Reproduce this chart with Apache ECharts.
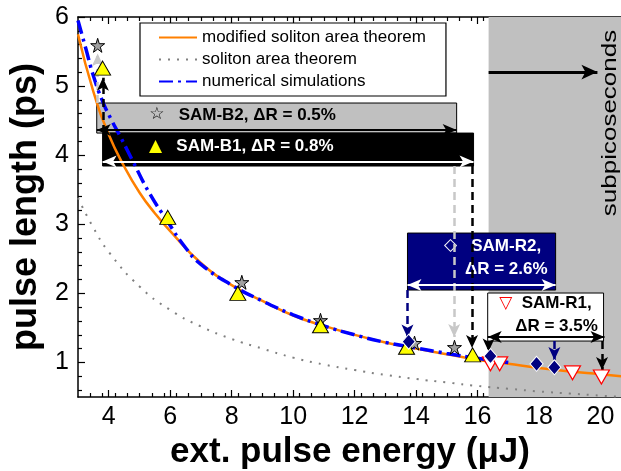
<!DOCTYPE html>
<html>
<head>
<meta charset="utf-8">
<script src="https://cdn.jsdelivr.net/npm/echarts@6/dist/echarts.min.js"></script>
<style>
  html, body { margin: 0; padding: 0; background: #fff; }
  #main { width: 621px; height: 471px; }
</style>
</head>
<body>
<div id="main"></div>
<script>
// pulse length (ps) vs extracted pulse energy (uJ)
var modifiedTheorem = [
  [3.0, 5.75], [3.5, 4.92], [4.0, 4.30], [4.5, 3.84], [5.0, 3.46], [5.5, 3.16],
  [6.0, 2.90], [7.0, 2.44], [8.0, 2.12], [9.0, 1.89], [10.0, 1.68], [11.0, 1.53],
  [12.0, 1.40], [13.0, 1.29], [14.0, 1.20], [15.0, 1.12], [16.0, 1.04], [17.0, 0.98],
  [18.0, 0.92], [19.0, 0.87], [20.0, 0.83], [20.7, 0.80]
]
var solitonTheorem = [
  [3.0, 3.38], [3.5, 2.95], [4.0, 2.60], [5.0, 2.10], [6.0, 1.76], [7.0, 1.52],
  [8.0, 1.34], [9.0, 1.20], [10.0, 1.07], [11.0, 0.97], [12.0, 0.89], [13.0, 0.82],
  [14.0, 0.76], [15.0, 0.71], [16.0, 0.66], [17.0, 0.62], [18.0, 0.58], [19.0, 0.55],
  [20.0, 0.52], [20.7, 0.50]
]
var simulation = [
  [3.0, 5.95], [3.25, 5.55], [3.5, 5.15], [3.8, 4.78], [4.1, 4.50], [4.4, 4.25],
  [4.8, 3.90], [5.3, 3.47], [5.9, 3.05], [6.5, 2.66], [7.0, 2.42], [8.0, 2.12],
  [9.0, 1.89], [10.0, 1.69], [11.0, 1.53], [12.0, 1.40], [13.0, 1.29], [14.0, 1.21],
  [15.0, 1.13], [16.0, 1.06], [17.0, 1.00]
]
var samB2 = [[3.64, 5.59], [8.33, 2.16], [10.89, 1.61], [13.95, 1.28], [15.25, 1.22]]
var samB1 = [[3.80, 5.26], [5.92, 3.10], [8.20, 2.00], [10.89, 1.53], [13.69, 1.22], [15.84, 1.11]]
var samR2 = [[13.76, 1.30], [16.42, 1.09], [17.92, 0.98], [18.50, 0.93]]
var samR1 = [[16.42, 0.98], [16.72, 0.98], [19.09, 0.85], [20.03, 0.79]]

var xTicks = [4, 6, 8, 10, 12, 14, 16, 18, 20]
var yTicks = [1, 2, 3, 4, 5, 6]

// minor ticks: 0.4 on x, 0.2 on y
var xMinor = []
for (var i = 1; 3 + i * 0.4 < 20.7; i++) {
  var v = Math.round((3 + i * 0.4) * 10) / 10
  if (v % 2 !== 0) xMinor.push(v)
}
var yMinor = []
for (var j = 1; 0.5 + j * 0.1 < 6; j++) {
  var w = Math.round((0.5 + j * 0.1) * 10) / 10
  if (Math.round(w * 10) % 2 === 0 && w % 1 !== 0) yMinor.push(w)
}

var font = 'Liberation Sans, Arial, sans-serif'
var sym = 'DejaVu Sans'
var star = 'path://M50,0 L61,35 L98,35 L68,57 L79,91 L50,70 L21,91 L32,57 L2,35 L39,35 Z'

function ticks(vals, len) {
  return { show: true, inside: true, length: len, customValues: vals, lineStyle: { color: '#000', width: 1.2 }}
}
function xAx(pos, vals, len, main) {
  return {
    type: 'value', min: 3, max: 20.7, position: pos,
    axisLine: { show: !!main, onZero: false, lineStyle: { color: '#000', width: 1.5 }},
    axisTick: ticks(vals, len),
    axisLabel: { show: false },
    splitLine: { show: false }
  }
}
function yAx(vals, len, main) {
  return {
    type: 'value', min: 0.5, max: 6, position: 'left',
    axisLine: { show: !!main, onZero: false, lineStyle: { color: '#000', width: 1.5 }},
    axisTick: ticks(vals, len),
    axisLabel: { show: false },
    splitLine: { show: false }
  }
}
function arrow(x1, y1, x2, y2, color, type, width, both, size) {
  return [
    { coord: [x1, y1], symbol: both ? 'arrow' : 'none', symbolSize: size, lineStyle: { color: color, type: type, width: width }},
    { coord: [x2, y2], symbol: 'arrow', symbolSize: size }
  ]
}
function box(x1, y1, x2, y2, fill, label) {
  return [
    { coord: [x1, y1], itemStyle: { color: fill, borderColor: '#000', borderWidth: 1, opacity: 1 }, label: label },
    { coord: [x2, y2] }
  ]
}

var xMain = xAx('bottom', xTicks, 7, true)
xMain.axisLabel = { show: true, customValues: xTicks, fontSize: 25, color: '#000', margin: 8, fontFamily: font }
xMain.name = 'ext. pulse energy (μJ)'
xMain.nameLocation = 'middle'
xMain.nameGap = 38
xMain.nameTextStyle = { fontSize: 35, fontWeight: 'bold', color: '#000', fontFamily: font }

var yMain = yAx(yTicks, 7, true)
yMain.axisLabel = { show: true, customValues: yTicks, fontSize: 25, color: '#000', margin: 9, fontFamily: font }
yMain.name = 'pulse length (ps)'
yMain.nameLocation = 'middle'
yMain.nameGap = 30
yMain.nameTextStyle = { fontSize: 36, fontWeight: 'bold', color: '#000', fontFamily: font }

var boldT = { fontSize: 17, fontWeight: 'bold', fontFamily: font, lineHeight: 23 }

var chart = echarts.init(document.getElementById('main'))
chart.setOption({
  animation: false,
  backgroundColor: '#fff',
  textStyle: { fontFamily: font },
  grid: { left: 78, top: 17, width: 544, height: 380, outerBoundsMode: 'none' },
  legend: {
    data: ['modified soliton area theorem', 'soliton area theorem', 'numerical simulations'],
    orient: 'vertical', left: 140, top: 23,
    padding: [6, 20, 6, 18], itemGap: 5, itemWidth: 38, itemHeight: 14,
    backgroundColor: '#fff', borderColor: '#000', borderWidth: 1.2, borderRadius: 0,
    selectedMode: false,
    itemStyle: { opacity: 0 },
    textStyle: { fontSize: 17, color: '#000', fontFamily: font }
  },
  xAxis: [xMain, xAx('bottom', xMinor, 4), xAx('top', xTicks, 7, true), xAx('top', xMinor, 4)],
  yAxis: [yMain, yAx(yMinor, 4)],
  graphic: [{
    type: 'text', x: 610, y: 123, rotation: Math.PI / 2, scaleX: 1.3, z: 100,
    style: { text: 'subpicoseconds', fontSize: 20, fontFamily: font, fill: '#000', align: 'center', verticalAlign: 'middle' }
  }],
  series: [
    {
      name: 'regions', type: 'line', data: [], silent: true,
      markArea: {
        silent: true,
        data: [
          [{ xAxis: 16.36, itemStyle: { color: '#c0c0c0', opacity: 1 }}, { xAxis: 20.7 }],
          box(3.61, 4.755, 15.32, 4.32, '#c0c0c0', {
            show: true, position: 'insideLeft', distance: 53, offset: [0, -3], fontSize: 17,
            formatter: '{s|☆}   {t|SAM-B2, ΔR = 0.5%}',
            rich: { s: { fontFamily: sym, fontSize: 17, color: '#000' }, t: Object.assign({ color: '#000' }, boldT) }
          }),
          box(3.80, 4.32, 15.87, 3.843, '#000000', {
            show: true, position: 'insideLeft', distance: 47, offset: [0, -3], fontSize: 17,
            formatter: '{s|▲}   {t|SAM-B1, ΔR = 0.8%}',
            rich: { s: { fontFamily: sym, fontSize: 17, color: '#ffff00' }, t: Object.assign({ color: '#fff' }, boldT) }
          }),
          box(13.72, 2.873, 18.54, 2.048, '#000080', {
            show: true, position: 'insideLeft', distance: 37, offset: [0, -4], fontSize: 17, color: '#fff',
            formatter: '{s|◇}   {t|SAM-R2,}\n{u|ΔR = 2.6%}',
            rich: {
              s: { fontFamily: sym, fontSize: 17, color: '#fff', lineHeight: 23 },
              t: Object.assign({ color: '#fff' }, boldT),
              u: Object.assign({ color: '#fff', padding: [0, 0, 0, 21] }, boldT)
            }
          }),
          box(16.33, 2.005, 20.10, 1.31, '#ffffff', {
            show: true, position: 'insideLeft', distance: 12, offset: [0, -2], fontSize: 17, color: '#000',
            formatter: '{s|▽}  {t|SAM-R1,}\n{u|ΔR = 3.5%}',
            rich: {
              s: { fontFamily: sym, fontSize: 17, color: '#ff0000', lineHeight: 23 },
              t: Object.assign({ color: '#000' }, boldT),
              u: Object.assign({ color: '#000', padding: [0, 0, 0, 16] }, boldT)
            }
          })
        ]
      }
    },
    {
      name: 'arrows', type: 'line', data: [], silent: true,
      markLine: {
        silent: true, label: { show: false }, emphasis: { disabled: true },
        data: [
          arrow(3.64, 4.755, 3.64, 5.47, '#c8c8c8', [8, 5], 2.5, false, [9, 13]),
          arrow(3.81, 4.32, 3.81, 5.12, '#000', [8, 5], 2.5, false, [9, 13]),
          arrow(15.24, 3.843, 15.24, 1.37, '#c8c8c8', [8, 5], 2.5, false, [9, 13]),
          arrow(15.82, 3.843, 15.82, 1.21, '#000', [8, 5], 2.5, false, [9, 13]),
          arrow(13.72, 2.048, 13.72, 1.36, '#000080', [8, 5], 2.5, false, [9, 13]),
          arrow(18.50, 1.31, 18.50, 1.035, '#000080', [8, 5], 2.5, false, [9, 13]),
          arrow(16.36, 1.31, 16.36, 1.16, '#000', [8, 5], 2.5, false, [9, 13]),
          arrow(20.05, 1.31, 20.05, 0.89, '#000', [8, 5], 2.5, false, [9, 13]),
          arrow(3.61, 4.364, 15.32, 4.364, '#000', 'solid', 2, true, [9, 14]),
          arrow(3.80, 3.908, 15.87, 3.908, '#fff', 'solid', 2, true, [9, 14]),
          arrow(13.72, 2.121, 18.54, 2.121, '#fff', 'solid', 2, true, [9, 14]),
          arrow(16.33, 1.368, 20.13, 1.368, '#000', 'solid', 2, true, [9, 14]),
          arrow(16.36, 5.203, 19.90, 5.203, '#000', 'solid', 3, false, [11, 16])
        ]
      }
    },
    {
      name: 'soliton area theorem', type: 'line', data: solitonTheorem, smooth: true, symbol: 'none', z: 2,
      itemStyle: { color: '#808080' }, lineStyle: { color: '#808080', width: 2, type: [2, 7] }
    },
    {
      name: 'modified soliton area theorem', type: 'line', data: modifiedTheorem, smooth: true, symbol: 'none', z: 2,
      itemStyle: { color: '#ff8000' }, lineStyle: { color: '#ff8000', width: 2.5 }
    },
    {
      name: 'numerical simulations', type: 'line', data: simulation, smooth: true, symbol: 'none', z: 3,
      itemStyle: { color: '#0000ff' }, lineStyle: { color: '#0000ff', width: 3.5, type: [14, 5, 3, 5] }
    },
    {
      name: 'SAM-B2', type: 'scatter', data: samB2, symbol: star, symbolSize: 14, z: 6,
      itemStyle: { color: '#a0a0a0', borderColor: '#000', borderWidth: 1, opacity: 1 }
    },
    {
      name: 'SAM-B1', type: 'scatter', data: samB1, symbol: 'triangle', symbolSize: [16, 14], z: 6,
      itemStyle: { color: '#ffff00', borderColor: '#000', borderWidth: 1, opacity: 1 }
    },
    {
      name: 'SAM-R2', type: 'scatter', data: samR2, symbol: 'diamond', symbolSize: [13, 15], z: 7,
      itemStyle: { color: '#000080', borderColor: '#fff', borderWidth: 1, opacity: 1 }
    },
    {
      name: 'SAM-R1', type: 'scatter', data: samR1, symbol: 'triangle', symbolRotate: 180, symbolSize: [16, 14], z: 6,
      itemStyle: { color: '#fff', borderColor: '#ff0000', borderWidth: 1.2, opacity: 1 }
    }
  ]
})
</script>
</body>
</html>
